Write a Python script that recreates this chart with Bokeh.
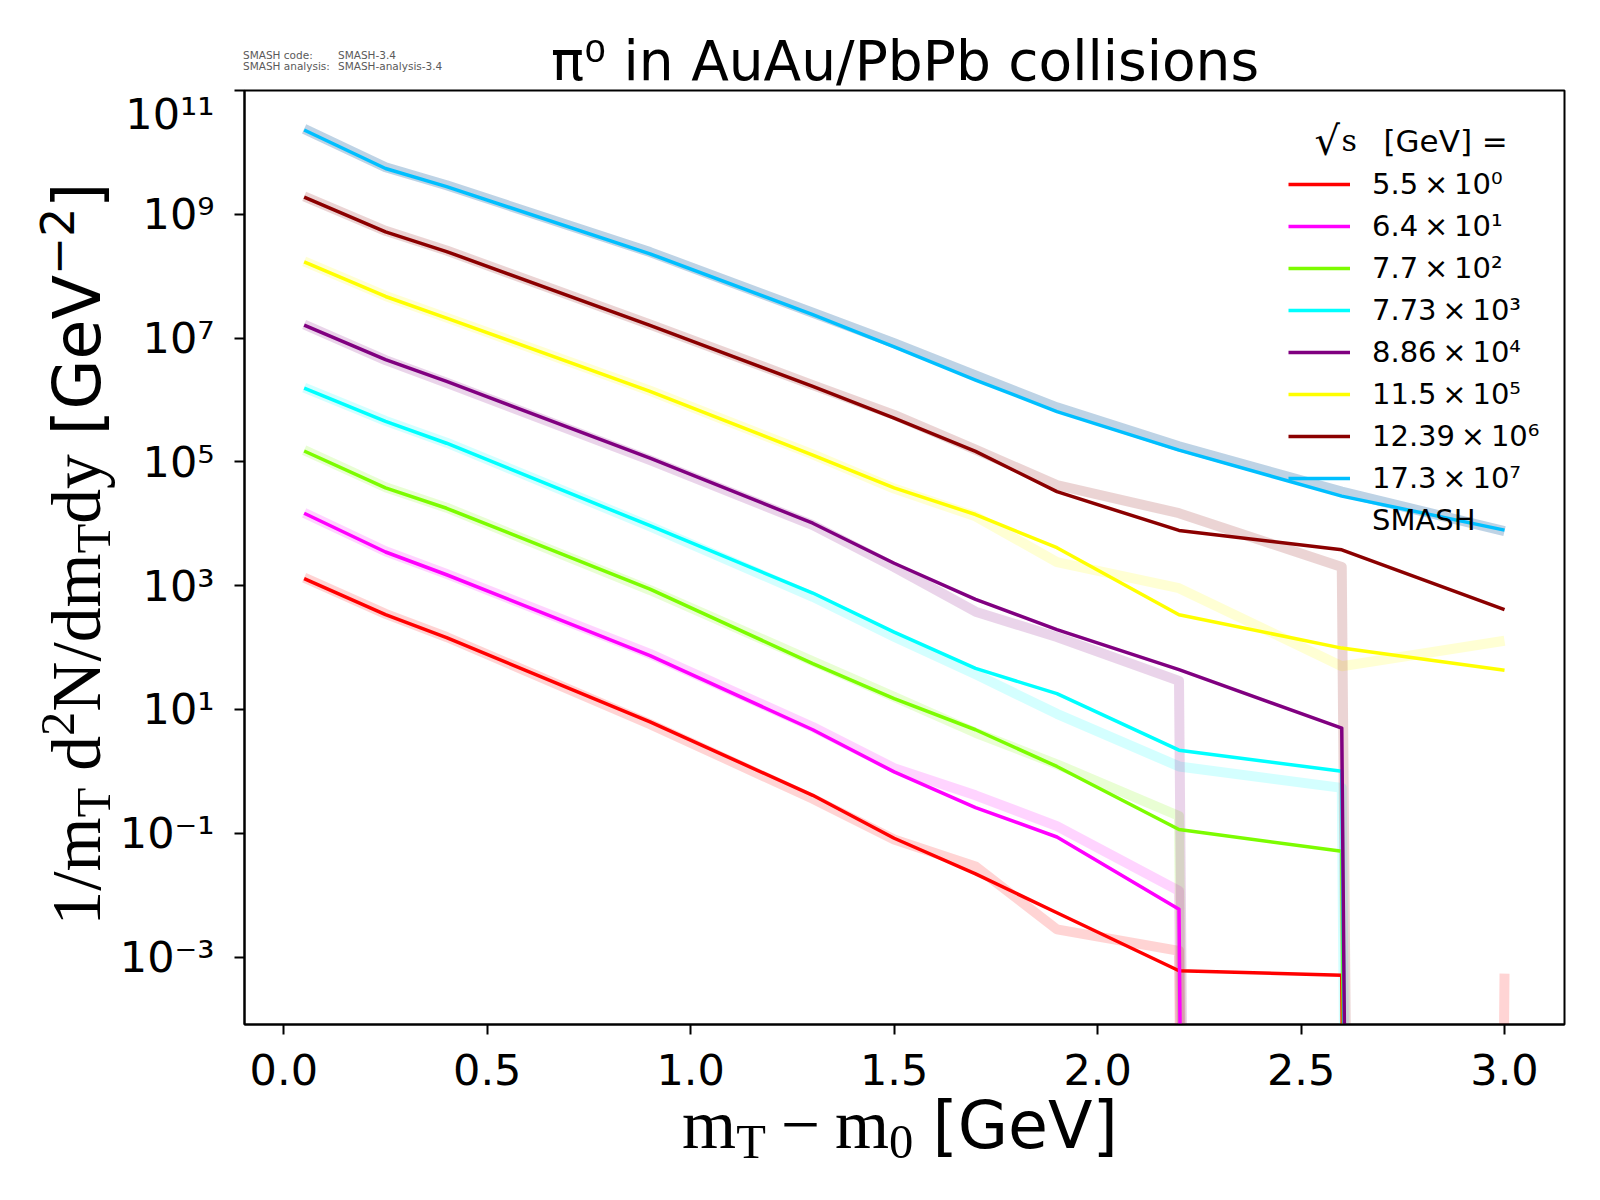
import numpy as np
from bokeh.plotting import figure
from bokeh.layouts import row, column
from bokeh.models import (Range1d, FixedTicker, CustomJSTickFormatter, NumeralTickFormatter,
                          Legend, LegendItem, Label, Div)
from bokeh.embed import file_html
from bokeh.resources import INLINE

# ---------------- data ----------------
mt_m0 = [0.05, 0.25, 0.4, 0.9, 1.3, 1.5, 1.7, 1.9, 2.2, 2.6, 3.0]

energy_labels = ["5.5\u2009×\u200910⁰", "6.4\u2009×\u200910¹", "7.7\u2009×\u200910²",
                 "7.73\u2009×\u200910³", "8.86\u2009×\u200910⁴", "11.5\u2009×\u200910⁵",
                 "12.39\u2009×\u200910⁶", "17.3\u2009×\u200910⁷"]
line_colors = ["#ff0000", "#ff00ff", "#7cfc00", "#00ffff",
               "#800080", "#ffff00", "#8b0000", "#00bfff"]
smash_colors = ["#ff0000", "#ff00ff", "#7cfc00", "#00ffff",
                "#800080", "#ffff00", "#8b0000", "#4682b4"]

# measured (solid) curves, already scaled by 10^k as in the legend
data_5p5 = [1.3e3, 3.4e2, 1.45e2, 6.3, 0.41, 0.083, 0.022, 0.0052, 6.0e-4, 5.1e-4, 0]
data_6p4 = [1.48e4, 3.5e3, 1.5e3, 74, 4.7, 0.98, 0.26, 0.087, 0.0059, 0, 0]
data_7p7 = [1.5e5, 3.8e4, 1.78e4, 8.8e2, 55, 15, 4.7, 1.2, 0.115, 0.051, 0]
data_7p73 = [1.55e6, 4.5e5, 2.0e5, 9.3e3, 7.6e2, 1.78e2, 46, 18, 2.2, 1.0, 0]
data_8p86 = [1.62e7, 4.5e6, 2.0e6, 1.15e5, 1.02e4, 2.3e3, 6.0e2, 1.95e2, 44, 5.0, 0]
data_11p5 = [1.7e8, 4.7e7, 2.1e7, 1.38e6, 1.29e5, 3.8e4, 1.41e4, 4.1e3, 3.4e2, 98, 43]
data_12p39 = [1.9e9, 5.2e8, 2.5e8, 1.6e7, 1.66e6, 5.1e5, 1.48e5, 3.3e4, 7.8e3, 3.8e3, 4.1e2]
data_17p3 = [2.3e10, 5.5e9, 2.8e9, 2.3e8, 2.4e7, 7.2e6, 2.1e6, 6.5e5, 1.55e5, 2.8e4, 7.9e3]

# SMASH (pale, thick) curves
smash_5p5 = [1.35e3, 3.5e2, 1.48e2, 5.8, 0.36, 0.079, 0.029, 0.0028, 0.00126, 0, 5.4e-4]
smash_6p4 = [1.5e4, 3.6e3, 1.55e3, 79, 5.2, 1.12, 0.41, 0.13, 0.0117, 0, 0]
smash_7p7 = [1.55e5, 3.9e4, 1.82e4, 8.5e2, 60, 16, 4.2, 1.3, 0.19, 0, 0]
smash_7p73 = [1.58e6, 4.6e5, 2.04e5, 9.1e3, 6.6e2, 1.5e2, 37, 8.5, 1.2, 0.54, 0]
smash_8p86 = [1.66e7, 4.4e6, 1.9e6, 1.07e5, 9.5e3, 2.0e3, 3.8e2, 1.48e2, 29, 0, 0]
smash_11p5 = [1.74e8, 4.8e7, 2.14e7, 1.41e6, 1.32e5, 3.7e4, 1.32e4, 2.4e3, 9.1e2, 50, 129]
smash_12p39 = [1.95e9, 5.4e8, 2.6e8, 1.66e7, 1.74e6, 5.75e5, 1.58e5, 4.2e4, 1.48e4, 2.0e3, 0]
smash_17p3 = [2.4e10, 5.75e9, 2.95e9, 2.45e8, 2.57e7, 8.3e6, 2.5e6, 7.6e5, 1.78e5, 3.3e4, 7.6e3]

data_series = [data_5p5, data_6p4, data_7p7, data_7p73, data_8p86, data_11p5, data_12p39, data_17p3]
smash_series = [smash_5p5, smash_6p4, smash_7p7, smash_7p73, smash_8p86, smash_11p5, smash_12p39, smash_17p3]

y_ticks = [1e-3, 1e-1, 1e1, 1e3, 1e5, 1e7, 1e9, 1e11]
x_ticks = [0.0, 0.5, 1.0, 1.5, 2.0, 2.5, 3.0]

title_text = "π⁰ in AuAu/PbPb collisions"
smash_note = [("SMASH code:", "SMASH-3.4"), ("SMASH analysis:", "SMASH-analysis-3.4")]

# zero values are clipped to a tiny positive number on the log axis (as matplotlib does)
CLIP = 1e-300
def clipped(v):
    a = np.asarray(v, dtype=float)
    return np.where(a > 0, a, CLIP)

# ---------------- layout geometry ----------------
LEFT_W = 112          # width of the y-label strip
TOP_H = 88            # height of the title strip
BOT_H = 88            # height of the x-label strip
FRAME_W, FRAME_H = 1320, 934
B_LEFT, B_RIGHT, B_TOP, B_BOTTOM = 132, 28, 2, 80
P_W = B_LEFT + FRAME_W + B_RIGHT
P_H = B_TOP + FRAME_H + B_BOTTOM
TOTAL_H = TOP_H + P_H + BOT_H

# ---------------- figure ----------------
p = figure(frame_width=FRAME_W, frame_height=FRAME_H,
           x_range=Range1d(-0.0966, 3.1474), y_range=Range1d(10 ** -4.09, 1e11),
           y_axis_type="log", output_backend="svg", toolbar_location=None,
           min_border_left=B_LEFT, min_border_right=B_RIGHT,
           min_border_top=B_TOP, min_border_bottom=B_BOTTOM, title=None, margin=0)

p.grid.visible = False
p.outline_line_color = "black"
p.outline_line_width = 2
p.background_fill_color = "white"
p.border_fill_color = "white"

for ax in (p.xaxis[0], p.yaxis[0]):
    ax.axis_line_width = 2
    ax.major_tick_line_width = 2
    ax.major_tick_out = 10
    ax.major_tick_in = 0
    ax.minor_tick_line_color = None
    ax.major_label_text_font = "DejaVu Sans"
    ax.major_label_text_font_size = "43px"
    ax.major_label_text_color = "black"

p.xaxis.ticker = FixedTicker(ticks=x_ticks, minor_ticks=[])
p.xaxis.formatter = NumeralTickFormatter(format="0.0")
p.xaxis.major_label_standoff = 19
p.yaxis.ticker = FixedTicker(ticks=y_ticks, minor_ticks=[])
p.yaxis.major_label_standoff = 20
p.yaxis.formatter = CustomJSTickFormatter(code="""
const sup = {"0":"\u2070","1":"\u00b9","2":"\u00b2","3":"\u00b3","4":"\u2074",
             "5":"\u2075","6":"\u2076","7":"\u2077","8":"\u2078","9":"\u2079","-":"\u207b"};
const e = Math.round(Math.log10(tick));
return "10" + String(e).split("").map(c => sup[c]).join("");
""")

# pale SMASH curves underneath
for vals, col in zip(smash_series, smash_colors):
    alpha = 0.35 if col == "#4682b4" else 0.17
    p.line(mt_m0, clipped(vals), line_color=col, line_width=10, line_alpha=alpha,
           line_join="round")

# solid curves
renderers = []
for vals, col in zip(data_series, line_colors):
    r = p.line(mt_m0, clipped(vals), line_color=col, line_width=3.5, line_join="round")
    renderers.append(r)

smash_key = p.line([], [], line_color="#dddddd", line_width=10)

items = [LegendItem(label=lab, renderers=[r]) for lab, r in zip(energy_labels, renderers)]
items.append(LegendItem(label="SMASH", renderers=[smash_key]))
legend = Legend(items=items, location=(1044, 486), orientation="vertical",
                border_line_alpha=0, background_fill_alpha=0, padding=0, margin=0,
                spacing=6, glyph_width=62, glyph_height=36, label_height=36,
                label_standoff=22, label_text_font="DejaVu Sans",
                label_text_font_size="29px", label_text_baseline="middle",
                label_text_color="black")
p.add_layout(legend)

# legend title (inside the frame)
p.add_layout(Label(x=1070, y=884, x_units="screen", y_units="screen", text="√",
                   text_font="DejaVu Serif", text_font_size="40px",
                   text_baseline="alphabetic", text_color="black"))
p.add_layout(Label(x=1097, y=884, x_units="screen", y_units="screen", text="s",
                   text_font="DejaVu Serif", text_font_size="30px",
                   text_baseline="alphabetic", text_color="black"))
p.add_layout(Label(x=1139, y=884, x_units="screen", y_units="screen", text="[GeV] =",
                   text_font="DejaVu Sans", text_font_size="31px",
                   text_baseline="alphabetic", text_color="black"))

# ---------------- texts outside the frame (inline SVG text) ----------------
SERIF = "Liberation Serif"
SANS = "DejaVu Sans"

def tspan(text, fam, size, dx=0, dy=0):
    a = f"style=\"font-family:'{fam}';font-size:{size:.1f}px\""
    if dx:
        a += f' dx="{dx}"'
    if dy:
        a += f' dy="{dy}"'
    return f'<tspan {a}>{text}</tspan>'

def svg_text(x, y, content, fam=SANS, size=20, color="black", anchor="start"):
    return (f'<text x="{x}" y="{y}" text-anchor="{anchor}" fill="{color}" '
            f"style=\"font-family:'{fam}';font-size:{size}px\">{content}</text>")

FS, FA = 69.5, 65
SUB = 0.7 * FS
xlabel_spans = "".join([
    tspan("m", SERIF, FS), tspan("T", SERIF, SUB, dy=10),
    tspan("−", SERIF, FS, dx=15, dy=-10), tspan("m", SERIF, FS, dx=15),
    tspan("0", SERIF, SUB, dy=10), tspan("[GeV]", SANS, FA, dx=19, dy=-10)])
ylabel_spans = "".join([
    tspan("1/m", SERIF, FS), tspan("T", SERIF, SUB, dy=10),
    tspan("d", SERIF, FS, dx=17, dy=-10), tspan("2", SERIF, SUB, dy=-26),
    tspan("N/dm", SERIF, FS, dy=26), tspan("T", SERIF, SUB, dy=10),
    tspan("dy", SERIF, FS, dy=-10), tspan("[GeV", SANS, FA, dx=19),
    tspan("−2", SANS, 0.7 * FA, dy=-26), tspan("]", SANS, FA, dy=26)])

frame_cx = B_LEFT + FRAME_W / 2          # frame centre inside the top/bottom strips
TOP_SHIFT, BOT_SHIFT, LEFT_SHIFT = 10, -20, 8

def svg(w, h, body):
    return (f'<svg xmlns="http://www.w3.org/2000/svg" width="{w}" height="{h}" '
            f'style="display:block">{body}</svg>')

top_body = (svg_text(frame_cx + 1, 80 - TOP_SHIFT, title_text, SANS, 55, anchor="middle")
            + svg_text(131, 59 - TOP_SHIFT, smash_note[0][0], SANS, 10.5, "#5a5a5a")
            + svg_text(226, 59 - TOP_SHIFT, smash_note[0][1], SANS, 10.5, "#5a5a5a")
            + svg_text(131, 69.5 - TOP_SHIFT, smash_note[1][0], SANS, 10.5, "#5a5a5a")
            + svg_text(226, 69.5 - TOP_SHIFT, smash_note[1][1], SANS, 10.5, "#5a5a5a"))
xl_base = 1148 - (TOP_H + P_H + BOT_SHIFT)
bot_body = (f'<text x="{frame_cx - 4}" y="{xl_base}" text-anchor="middle" fill="black">'
            f'{xlabel_spans}</text>')
left_body = (f'<text transform="translate({100 - LEFT_SHIFT},554) rotate(-90)" '
             f'text-anchor="middle" fill="black">{ylabel_spans}</text>')

top_div = Div(text=svg(P_W, TOP_H, top_body), width=P_W, height=TOP_H, margin=0,
              styles={"transform": f"translateY({TOP_SHIFT}px)", "z-index": "10"})
bot_div = Div(text=svg(P_W, BOT_H, bot_body), width=P_W, height=BOT_H, margin=0,
              styles={"transform": f"translateY({BOT_SHIFT}px)", "z-index": "10"})
left_div = Div(text=svg(LEFT_W, TOTAL_H, left_body), width=LEFT_W, height=TOTAL_H, margin=0,
               styles={"transform": f"translateX({LEFT_SHIFT}px)", "z-index": "10"})

layout = row(left_div, column(top_div, p, bot_div, spacing=0, margin=0), spacing=0, margin=0)

with open("out.html", "w", encoding="utf-8") as f:
    f.write(file_html(layout, INLINE))
